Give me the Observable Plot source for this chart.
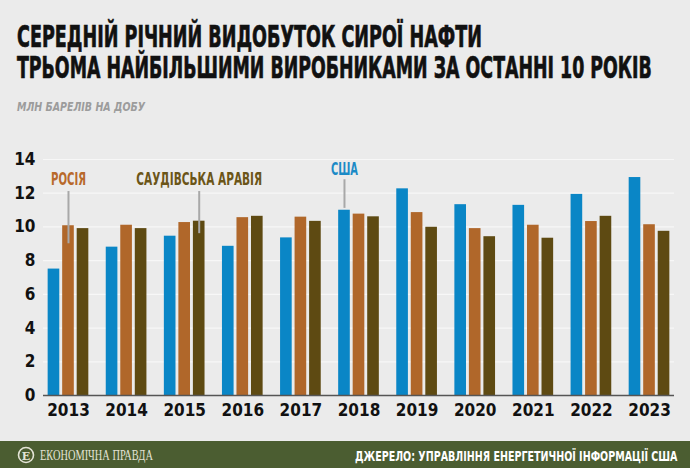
<!DOCTYPE html>
<html><head><meta charset="utf-8">
<script src="https://cdn.jsdelivr.net/npm/d3@7"></script>
<script src="https://cdn.jsdelivr.net/npm/@observablehq/plot@0.6"></script>
<style>
  body{margin:0;background:#ebebeb;}
  #wrap{position:relative;width:690px;height:468px;background:#ebebeb;overflow:hidden;}
  #head{position:absolute;left:0;top:0;}
  #chart{position:absolute;left:0;top:130px;}
  #foot{position:absolute;left:0;top:441px;width:690px;height:27px;background:#4b5d31;}
  .cond{font-family:"Liberation Sans Narrow","DejaVu Sans Condensed","Liberation Sans",sans-serif;font-weight:bold;}
</style>
</head><body>
<div id="wrap">
  <svg id="head" width="690" height="130">
    <text class="cond fit" data-w="465" x="17" y="47" font-size="31" fill="#111" stroke="#111" stroke-width="0.7">СЕРЕДНІЙ РІЧНИЙ ВИДОБУТОК СИРОЇ НАФТИ</text>
    <text class="cond fit" data-w="635" x="17" y="78" font-size="31" fill="#111" stroke="#111" stroke-width="0.7">ТРЬОМА НАЙБІЛЬШИМИ ВИРОБНИКАМИ ЗА ОСТАННІ 10 РОКІВ</text>
    <text class="cond fit" data-w="128" x="17" y="111" font-size="13" font-style="italic" fill="#9c9c9c">МЛН БАРЕЛІВ НА ДОБУ</text>
  </svg>
  <div id="chart"></div>
  <div id="foot">
    <svg width="690" height="27">
      <circle cx="26" cy="14" r="7.5" fill="none" stroke="#e4e4d6" stroke-width="1.6"></circle>
      <text x="26" y="18.5" font-family="DejaVu Serif,serif" font-size="11" font-weight="bold" text-anchor="middle" fill="#e4e4d6">Е</text>
      <text class="fit" data-w="113" x="40" y="19" font-family="Liberation Serif,DejaVu Serif,serif" font-size="14" fill="#e4e4d6">ЕКОНОМІЧНА ПРАВДА</text>
      <text class="cond fit" data-w="323" x="355" y="20" font-size="14.5" fill="#ffffff">ДЖЕРЕЛО:  УПРАВЛІННЯ ЕНЕРГЕТИЧНОЇ ІНФОРМАЦІЇ США</text>
    </svg>
  </div>
</div>
<script>
// ---- data ----
const years = ["2013","2014","2015","2016","2017","2018","2019","2020","2021","2022","2023"];
const seriesNames = ["США","Росія","Саудівська Аравія"];
const usa    = [7.50, 8.80, 9.45, 8.85, 9.35, 10.99, 12.26, 11.32, 11.28, 11.93, 12.93];
const russia = [10.07, 10.10, 10.26, 10.55, 10.58, 10.76, 10.85, 9.90, 10.10, 10.32, 10.13];
const saudi  = [9.90, 9.90, 10.34, 10.63, 10.33, 10.60, 9.98, 9.42, 9.33, 10.63, 9.74];
const yTicks = [0, 2, 4, 6, 8, 10, 12, 14];
// annotations
const annLabels = ["РОСІЯ", "САУДІВСЬКА АРАВІЯ", "США"];
const annYears  = ["2013", "2015", "2018"];
const annSeries = [1, 2, 0];
const annTextY  = [12.83, 12.83, 13.4];
const annLineTop = [12.1, 12.1, 12.8];
const annLineBottom = [9.0, 9.6, 11.1];

// ---- styling ----
const colors = ["#0a86c6", "#b0672a", "#5e4a12"];
const textColors = ["#1b8ac6", "#b8692b", "#6b5518"];
const W = 690, H = 290;
const mL = 43, mR = 16, mT = 29, mB = 25;
const padIn = 0.30, padOut = 0.08;
const band = d3.scaleBand(years, [mL, W - mR]).paddingInner(padIn).paddingOuter(padOut);
const bw = band.bandwidth();
const barW = bw * 0.286;
const gap = (bw - 3 * barW) / 2;

const table = [usa, russia, saudi].flatMap((vals, s) =>
  vals.map((v, i) => ({year: years[i], series: s, name: seriesNames[s], value: v})));

const barMarks = [0, 1, 2].map(s => Plot.barY(table.filter(d => d.series === s), {
  x: "year", y: "value", fill: colors[s],
  insetLeft: s * (barW + gap), insetRight: bw - s * (barW + gap) - barW
}));

const anns = annLabels.map((t, i) => ({label: t, year: annYears[i], s: annSeries[i], ty: annTextY[i], y1: annLineTop[i], y2: annLineBottom[i]}));
const annMarks = anns.flatMap(a => [
  Plot.ruleX([a], {x: "year", y1: "y1", y2: "y2", dx: (a.s - 1) * (barW + gap), stroke: "#a8a8a8", strokeWidth: 2}),
  Plot.text([a], {x: "year", y: "ty", text: "label", dx: (a.s - 1) * (barW + gap), fill: textColors[a.s], fontSize: 18, fontWeight: "bold"})
]);

const chart = Plot.plot({
  width: W, height: H,
  marginLeft: mL, marginRight: mR, marginTop: mT, marginBottom: mB,
  style: {background: "transparent", fontFamily: '"Liberation Sans Narrow","DejaVu Sans Condensed",sans-serif', fontSize: "17px", fontWeight: "bold", color: "#111"},
  x: {type: "band", domain: years, paddingInner: padIn, paddingOuter: padOut, round: false, tickSize: 0, tickPadding: 8, label: null},
  y: {domain: [0, 14], ticks: yTicks, tickSize: 0, tickPadding: 8, label: null},
  marks: [
    Plot.ruleY(yTicks.filter(d => d > 0), {stroke: "#f7f7f7", strokeWidth: 1.2}),
    ...barMarks,
    Plot.ruleY([0], {stroke: "#555", strokeWidth: 1.5}),
    ...annMarks
  ]
});
document.getElementById("chart").appendChild(chart);

// condense texts horizontally to the reference widths
function fit(t, w) {
  const nat = t.getComputedTextLength();
  if (!nat) return;
  const s = w / nat;
  const x = parseFloat(t.getAttribute("x")) || 0;
  const prev = t.getAttribute("transform") || "";
  t.setAttribute("transform", `${prev} translate(${x},0) scale(${s},1) translate(${-x},0)`);
}
document.querySelectorAll("#head text.fit, #foot text.fit").forEach(t => fit(t, +t.dataset.w));
const annWidths = {"РОСІЯ": 35, "САУДІВСЬКА АРАВІЯ": 126, "США": 27};
chart.querySelectorAll("text").forEach(t => {
  const w = annWidths[t.textContent];
  if (w) fit(t, w);
});
</script>
</body></html>
